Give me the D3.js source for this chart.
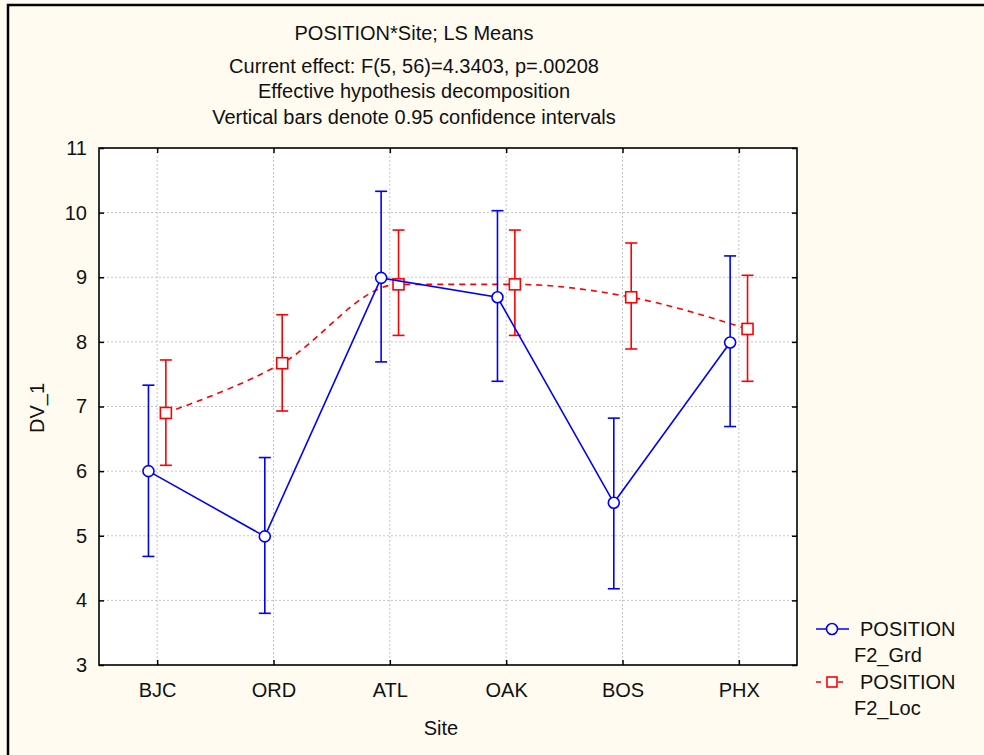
<!DOCTYPE html>
<html><head><meta charset="utf-8">
<script src="https://cdn.jsdelivr.net/npm/d3@7"></script>
<style>body{margin:0;background:#FFFBF0}svg{display:block}text{font-family:"Liberation Sans",Arial,sans-serif;fill:#111}</style>
</head><body><svg id="c" width="984" height="755"></svg>
<script>
const sites = ["BJC","ORD","ATL","OAK","BOS","PHX"];
const grdMean = [6.0, 4.99, 8.99, 8.69, 5.51, 7.99];
const grdLow  = [4.68, 3.80, 7.69, 7.39, 4.18, 6.69];
const grdHigh = [7.33, 6.21, 10.33, 10.03, 6.82, 9.33];
const locMean = [6.90, 7.67, 8.89, 8.89, 8.69, 8.20];
const locLow  = [6.09, 6.93, 8.10, 8.10, 7.89, 7.39];
const locHigh = [7.72, 8.42, 9.73, 9.73, 9.53, 9.03];
const yTicks = [3,4,5,6,7,8,9,10,11];
const titleLines = ["POSITION*Site; LS Means","Current effect: F(5, 56)=4.3403, p=.00208","Effective hypothesis decomposition","Vertical bars denote 0.95 confidence intervals"];

const FS=20;
const svg = d3.select("#c");
const L=99, R=797, T=148, B=665;
svg.append("rect").attr("width",984).attr("height",755).attr("fill","#FFFBF0");
svg.append("path").attr("d","M8,755 L8,5 L984,5").attr("fill","none").attr("stroke","#000").attr("stroke-width",2.5);

const x = d3.scalePoint().domain(sites).range([L,R]).padding(0.5);
const y = d3.scaleLinear().domain([3,11]).range([B,T]);

svg.append("rect").attr("x",L).attr("y",T).attr("width",R-L).attr("height",B-T).attr("fill","#fff");
const g = svg.append("g");
g.selectAll(".gy").data(yTicks.slice(1,-1)).join("line").attr("x1",L).attr("x2",R).attr("y1",d=>y(d)).attr("y2",d=>y(d)).attr("stroke","#c4c4c4").attr("stroke-dasharray","2,2");
g.selectAll(".gx").data(sites).join("line").attr("x1",d=>x(d)).attr("x2",d=>x(d)).attr("y1",T).attr("y2",B).attr("stroke","#c4c4c4").attr("stroke-dasharray","2,2");

svg.append("rect").attr("x",L).attr("y",T).attr("width",R-L).attr("height",B-T).attr("fill","none").attr("stroke","#000").attr("stroke-width",1.6);
const tk=5;
const styleText=s=>s.selectAll("text").attr("font-size",FS).attr("fill","#111").style("font-family","Liberation Sans, Arial");
svg.append("g").attr("transform",`translate(0,${B})`).call(d3.axisBottom(x).tickSizeInner(-tk).tickSizeOuter(0).tickPadding(18)).call(s=>{s.select(".domain").remove();styleText(s);s.selectAll("line").attr("stroke-width",1.5);});
svg.append("g").attr("transform",`translate(0,${T})`).call(d3.axisTop(x).tickSizeInner(-tk).tickSizeOuter(0).tickFormat("")).call(s=>{s.select(".domain").remove();s.selectAll("line").attr("stroke-width",1.5);});
svg.append("g").attr("transform",`translate(${L},0)`).call(d3.axisLeft(y).tickValues(yTicks).tickSizeInner(-tk).tickSizeOuter(0).tickPadding(12).tickFormat(d3.format("d"))).call(s=>{s.select(".domain").remove();styleText(s);s.selectAll("line").attr("stroke-width",1.5);});
svg.append("g").attr("transform",`translate(${R},0)`).call(d3.axisRight(y).tickValues(yTicks).tickSizeInner(-tk).tickSizeOuter(0).tickFormat("")).call(s=>{s.select(".domain").remove();s.selectAll("line").attr("stroke-width",1.5);});

svg.selectAll(".title").data(titleLines).join("text").attr("x",414).attr("y",(d,i)=>[40,73,98,124][i]).attr("text-anchor","middle").attr("font-size",FS).text(d=>d);
svg.append("text").attr("x",441).attr("y",735).attr("text-anchor","middle").attr("font-size",FS).text("Site");
svg.append("text").attr("transform","translate(44,408) rotate(-90)").attr("text-anchor","middle").attr("font-size",FS).text("DV_1");

const off=8.7;
function series(mean,low,high,color,dx,curve,dash,marker){
  const gs=svg.append("g");
  const pts=sites.map((s,i)=>({x:x(s)+dx,m:mean[i],l:low[i],h:high[i]}));
  gs.append("path").datum(pts).attr("d",d3.line().x(d=>d.x).y(d=>y(d.m)).curve(curve)).attr("fill","none").attr("stroke",color).attr("stroke-width",1.6).attr("stroke-dasharray",dash);
  gs.selectAll(".eb").data(pts).join("line").attr("x1",d=>d.x).attr("x2",d=>d.x).attr("y1",d=>y(d.l)).attr("y2",d=>y(d.h)).attr("stroke",color).attr("stroke-width",1.6);
  ["l","h"].forEach(k=>gs.selectAll(".cap"+k).data(pts).join("line").attr("x1",d=>d.x-6).attr("x2",d=>d.x+6).attr("y1",d=>y(d[k])).attr("y2",d=>y(d[k])).attr("stroke",color).attr("stroke-width",1.6));
  if(marker==="circle") gs.selectAll(".mk").data(pts).join("circle").attr("cx",d=>d.x).attr("cy",d=>y(d.m)).attr("r",5.5).attr("fill","#fff").attr("stroke",color).attr("stroke-width",1.6);
  else gs.selectAll(".mk").data(pts).join("rect").attr("x",d=>d.x-5.5).attr("y",d=>y(d.m)-5.5).attr("width",11).attr("height",11).attr("fill","#fff").attr("stroke",color).attr("stroke-width",1.6);
}
series(locMean,locLow,locHigh,"#ff0000",off,d3.curveMonotoneX,"6,5","square");
series(grdMean,grdLow,grdHigh,"#0000ff",-off,d3.curveLinear,null,"circle");

const lg=svg.append("g");
lg.append("line").attr("x1",816).attr("x2",849).attr("y1",629).attr("y2",629).attr("stroke","#00f").attr("stroke-width",1.6);
lg.append("circle").attr("cx",832).attr("cy",629).attr("r",5.5).attr("fill","#fff").attr("stroke","#00f").attr("stroke-width",1.6);
lg.append("text").attr("x",860).attr("y",636).attr("font-size",FS).text("POSITION");
lg.append("text").attr("x",854).attr("y",662).attr("font-size",FS).text("F2_Grd");
lg.append("line").attr("x1",816).attr("x2",849).attr("y1",682).attr("y2",682).attr("stroke","#f00").attr("stroke-width",1.6).attr("stroke-dasharray","5,6");
lg.append("rect").attr("x",827).attr("y",677).attr("width",10).attr("height",10).attr("fill","#fff").attr("stroke","#f00").attr("stroke-width",1.6);
lg.append("text").attr("x",860).attr("y",689).attr("font-size",FS).text("POSITION");
lg.append("text").attr("x",854).attr("y",715).attr("font-size",FS).text("F2_Loc");
</script></body></html>
